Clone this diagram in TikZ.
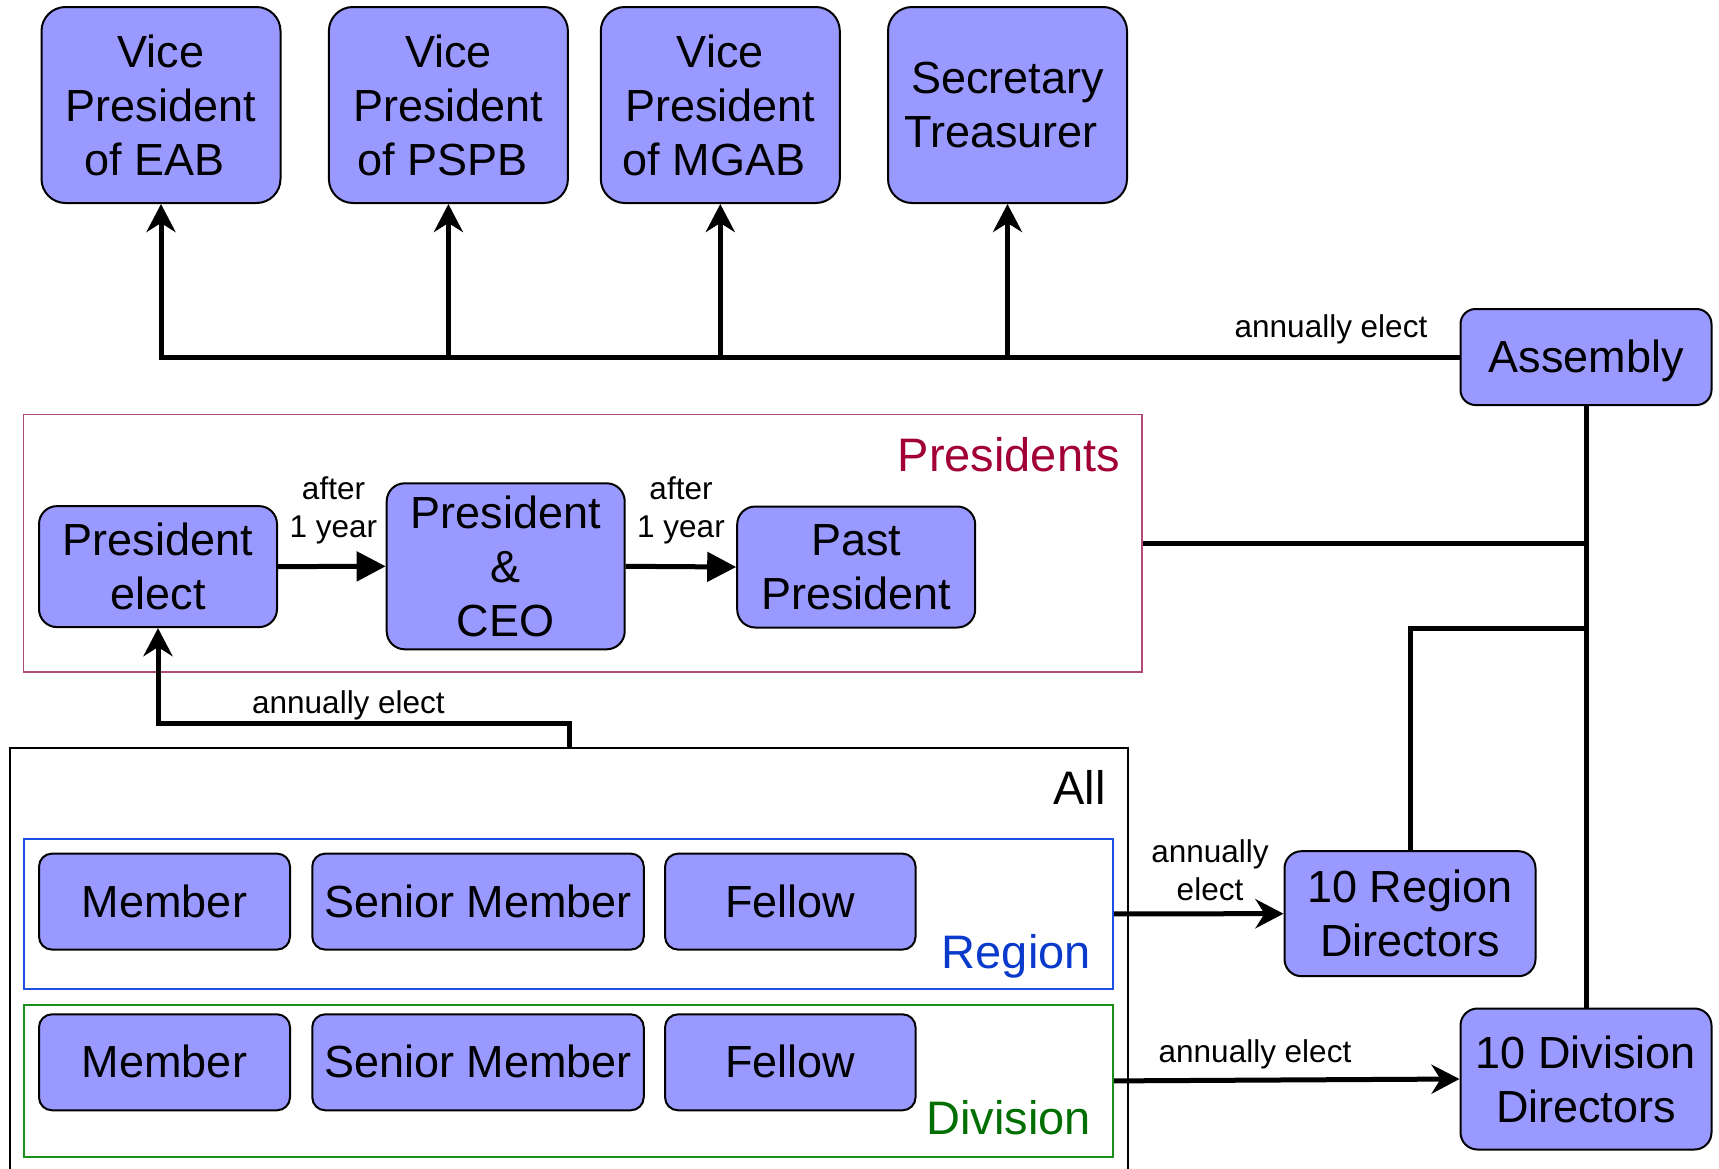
\documentclass[tikz,border=0pt]{standalone}
\usepackage{fontspec}
\setmainfont{Liberation Sans}
\usetikzlibrary{arrows.meta}
\definecolor{boxfill}{HTML}{9999FF}
\definecolor{crim}{HTML}{A20035}
\definecolor{crimline}{HTML}{B04A78}
\definecolor{regblue}{HTML}{0A3ACC}
\definecolor{regline}{HTML}{1E4FE0}
\definecolor{divgreen}{HTML}{006E00}
\definecolor{divline}{HTML}{1A8F1A}
\newcommand\mytopstrut{\rule{0pt}{42.6pt}}
\newcommand\mybotstrut{\rule[-11.4pt]{0pt}{11.4pt}}
\newcommand\trsp{\hspace*{12.5pt}}
\tikzset{
  bigtxt/.style={font=\fontsize{45}{54}\selectfont},
  smalltxt/.style={font=\fontsize{31.5}{38}\selectfont, align=center, inner sep=0pt},
  blk/.style={draw=black, fill=boxfill, line width=2pt, inner sep=0pt, align=center, bigtxt},
  oneline/.style={execute at begin node={\mytopstrut}, execute at end node={\mybotstrut}},
  vpbox/.style={blk, rounded corners=24pt, minimum width=239pt, minimum height=196pt},
  pbox/.style={blk, rounded corners=18pt, minimum width=238pt},
  dirbox/.style={blk, rounded corners=17pt, minimum width=251pt},
  membox/.style={blk, oneline, rounded corners=13pt, minimum height=96pt},
  conn/.style={line width=5pt, draw=black},
  classic/.style={-{Stealth[length=28pt,width=29pt,inset=9pt]}},
  blockhead/.style={-{Triangle[length=29pt,width=29pt]}},
  grp/.style={inner sep=0pt, fill=none}
}
\begin{document}
\begin{tikzpicture}[x=1pt,y=-1pt]
\useasboundingbox (0,0) rectangle (1719,1168);
\clip (0,0) rectangle (1719,1168);
\fill[white] (0,0) rectangle (1719,1168);

% top row
\node[vpbox] (vEAB) at (161,105) {Vice\\President\\of EAB\trsp};
\node[vpbox] (vPSPB) at (448.4,105) {Vice\\President\\of PSPB\trsp};
\node[vpbox] (vMGAB) at (720.3,105) {Vice\\President\\of MGAB\trsp};
\node[vpbox] (vST) at (1007.5,105) {Secretary\\Treasurer\trsp};

\node[dirbox, oneline, rounded corners=15pt, minimum height=96pt] (asm) at (1586,357) {Assembly};

% presidents group
\node[grp, draw=crimline, line width=1.6pt, minimum width=1118.5pt, minimum height=257.7pt] (presbox) at (582.75,543.2) {};
\node[anchor=base east, text=crim, font=\fontsize{47}{54}\selectfont, inner sep=0pt] (presl) at (1120,471) {Presidents};
\node[pbox, minimum height=121pt] (pe) at (158,566.6) {President\\elect};
\node[pbox, minimum height=166pt] (pceo) at (505.7,566.3) {President\\\&\\CEO};
\node[pbox, minimum height=121pt] (past) at (856.2,567) {Past\\President};
\node[smalltxt] (after1) at (333.5,510.3) {after\\1 year};
\node[smalltxt] (after2) at (681,510.3) {after\\1 year};

% All group
\node[grp, draw=black, line width=2pt, minimum width=1118.4pt, minimum height=460pt, anchor=north west] (allbox) at (8.8,747.3) {};
\node[anchor=base east, font=\fontsize{47}{54}\selectfont, inner sep=0pt] (alll) at (1106,804) {All};

\node[grp, draw=regline, line width=2pt, minimum width=1089pt, minimum height=150.5pt] (regbox) at (568.5,913.8) {};
\node[anchor=base east, text=regblue, font=\fontsize{47}{54}\selectfont, inner sep=0pt] (regl) at (1091,968) {Region};
\node[grp, draw=divline, line width=2pt, minimum width=1089pt, minimum height=151.7pt] (divbox) at (568.5,1080.9) {};
\node[anchor=base east, text=divgreen, font=\fontsize{47}{54}\selectfont, inner sep=0pt] (divl) at (1091,1134) {Division};

\node[membox, minimum width=251pt] (m1) at (164.5,901.6) {Member};
\node[membox, minimum width=331.5pt] (s1) at (478,901.6) {Senior Member};
\node[membox, minimum width=250.5pt] (f1) at (790.3,901.6) {Fellow};
\node[membox, minimum width=251pt] (m2) at (164.5,1062.3) {Member};
\node[membox, minimum width=331.5pt] (s2) at (478,1062.3) {Senior Member};
\node[membox, minimum width=250.5pt] (f2) at (790.3,1062.3) {Fellow};

\node[dirbox, minimum height=125pt] (rdir) at (1410,913.7) {10 Region\\Directors};
\node[dirbox, minimum height=141pt] (ddir) at (1586,1079) {10 Division\\Directors};

% connectors: Assembly to officers
\coordinate (jEAB) at (vEAB.south |- asm.west);
\draw[conn, classic] (asm.west) -- (jEAB) -- (vEAB.south);
\draw[conn, classic] (vPSPB.south |- asm.west) -- (vPSPB.south);
\draw[conn, classic] (vMGAB.south |- asm.west) -- (vMGAB.south);
\draw[conn, classic] (vST.south |- asm.west) -- (vST.south);
\node[smalltxt, anchor=base] (lblasm) at (1331,337) {annually elect};

% Assembly trunk
\draw[conn] (asm.south) -- (ddir.north);
\draw[conn] (presbox.east) -- (presbox.east -| asm.south);
\coordinate (rj) at (1586,628.3);
\draw[conn] (rdir.north) |- (rj);

% presidents progression
\draw[conn, blockhead] (pe.east) -- (pceo.west);
\draw[conn, blockhead] (pceo.east) -- (past.west);

% All to president elect
\draw[conn, classic] (allbox.north) -- ++(0,-24) -| (pe.south);
\node[smalltxt, anchor=base] (lblall) at (348.5,713) {annually elect};

% Region / Division to directors
\draw[conn, classic] (regbox.east) -- (rdir.west);
\node[smalltxt] (lblreg) at (1210,870) {annually\\elect};
\draw[conn, classic] (divbox.east) -- (ddir.west);
\node[smalltxt, anchor=base] (lbldiv) at (1255,1062) {annually elect};
\end{tikzpicture}
\end{document}
